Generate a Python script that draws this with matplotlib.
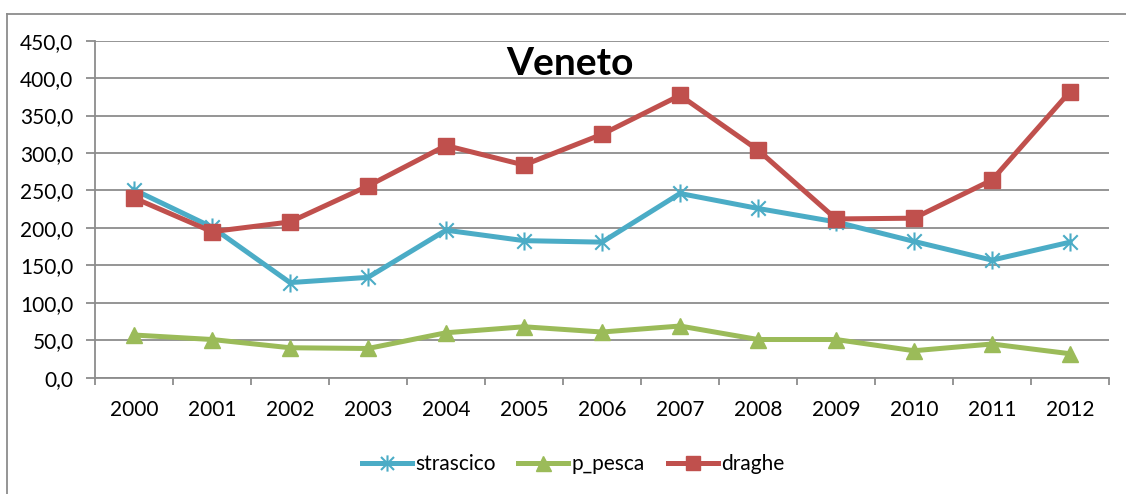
import matplotlib
matplotlib.use("Agg")
import matplotlib.pyplot as plt
from matplotlib.lines import Line2D
from matplotlib.path import Path

plt.rcParams['font.family'] = ['Lato', 'DejaVu Sans']

anni = [str(a) for a in range(2000, 2013)]
strascico = [251, 201, 127, 134, 197, 183, 181, 246, 226, 208, 182, 157, 181]
p_pesca = [57, 51, 40, 39, 60, 68, 61, 69, 51, 51, 36, 45, 32]
draghe = [240, 195, 208, 256, 310, 284, 325, 377, 304, 212, 213, 264, 382]

col_strascico = '#4BACC6'
col_pesca = '#9BBB59'
col_draghe = '#C0504D'
grigio = '#8c8c8c'

# asterisco: un tratto verticale più una X
asterisco = Path([(0, -1), (0, 1), (-0.8, -0.8), (0.8, 0.8), (-0.8, 0.8), (0.8, -0.8)],
                 [Path.MOVETO, Path.LINETO, Path.MOVETO, Path.LINETO, Path.MOVETO, Path.LINETO])

fig = plt.figure(figsize=(11.26, 4.94), dpi=100)
ax = fig.add_axes([95 / 1126, (494 - 377.7) / 494, 1014 / 1126, 337 / 494])

x = list(range(len(anni)))
ax.plot(x, strascico, color=col_strascico, lw=3.6, marker=asterisco,
        ms=13, mew=1.5, mec=col_strascico, mfc='none', label='strascico', zorder=3)
ax.plot(x, p_pesca, color=col_pesca, lw=3.6, marker='^',
        ms=12, mec=col_pesca, label='p_pesca', zorder=4)
ax.plot(x, draghe, color=col_draghe, lw=3.6, marker='s',
        ms=11, mec=col_draghe, label='draghe', zorder=5)

ax.set_xlim(-0.5, len(anni) - 0.5)
ax.set_ylim(0, 450)
ax.set_yticks(range(0, 451, 50))
ax.set_yticklabels([f"{v:.1f}".replace('.', ',') for v in range(0, 451, 50)])
ax.set_xticks(x)
ax.set_xticklabels(anni)
ax.set_xticks([i - 0.5 for i in range(len(anni) + 1)], minor=True)

ax.grid(axis='y', color=grigio, lw=1.3, zorder=1)
ax.set_axisbelow(True)
for s in ('top', 'right'):
    ax.spines[s].set_visible(False)
for s in ('left', 'bottom'):
    ax.spines[s].set_color(grigio)
    ax.spines[s].set_linewidth(1.3)

ax.tick_params(axis='y', length=6.5, width=1.3, color=grigio, pad=9,
               labelsize=15, labelcolor='black')
ax.tick_params(axis='x', which='major', length=0, pad=16,
               labelsize=15, labelcolor='black')
ax.tick_params(axis='x', which='minor', length=5, width=1.3, color=grigio)

fig.text(570 / 1126, (494 - 75) / 494, 'Veneto', ha='center', va='baseline',
         fontsize=28, fontweight='bold')

# cornice esterna del grafico
fig.add_artist(Line2D([7.5 / 1126, 7.5 / 1126], [0, (494 - 14) / 494],
                      transform=fig.transFigure, color=grigio, lw=1.3))
fig.add_artist(Line2D([7 / 1126, 1], [(494 - 14) / 494, (494 - 14) / 494],
                      transform=fig.transFigure, color=grigio, lw=1.3))

fig.legend(loc='center', bbox_to_anchor=(573 / 1126, 30 / 494), ncol=3,
           frameon=False, fontsize=15, handlelength=2.4, handletextpad=0.15,
           columnspacing=1.1, markerscale=0.9)

fig.savefig('out.png', dpi=100)
